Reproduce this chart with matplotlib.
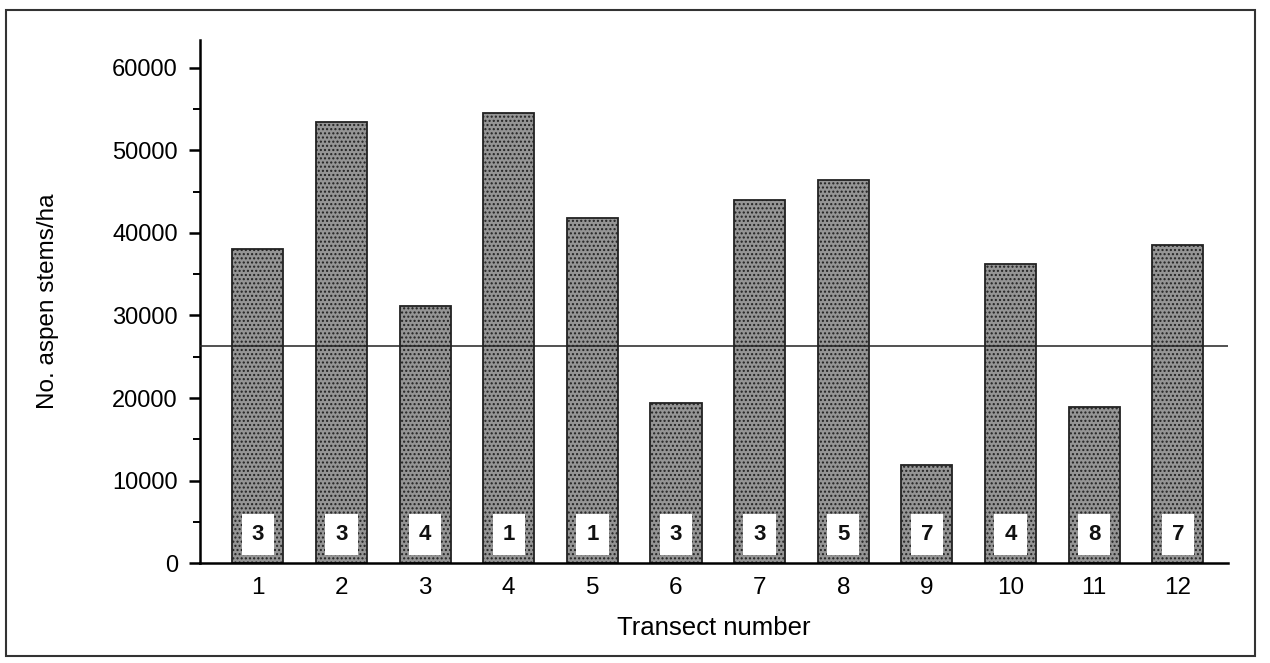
"""
Aspen stem density along twelve transects, with the mean as a horizontal line
and a small boxed count at the foot of each bar.
"""

import matplotlib
matplotlib.use('Agg')
import matplotlib.pyplot as plt
from matplotlib.patches import Rectangle
from matplotlib.ticker import MultipleLocator

plt.rcParams['font.family'] = ['Liberation Sans', 'DejaVu Sans']

# Data
transects = [1, 2, 3, 4, 5, 6, 7, 8, 9, 10, 11, 12]
stems_per_ha = [38000, 53500, 31100, 54500, 41800, 19400,
                44000, 46400, 11900, 36200, 18900, 38500]
box_counts = [3, 3, 4, 1, 1, 3, 3, 5, 7, 4, 8, 7]
mean_line = 26300

fig = plt.figure(figsize=(12.7, 6.63), dpi=100)
ax = fig.add_axes([0.1575, 0.1508, 0.8095, 0.789])

# stippled grey bars
ax.bar(transects, stems_per_ha, width=0.61, color='#959595',
       edgecolor='#222222', linewidth=1.3, hatch='....', zorder=2)

# mean line across the plot
ax.axhline(mean_line, color='#222222', linewidth=1.1, zorder=3)

# boxed counts near the bottom of each bar
for x, n in zip(transects, box_counts):
    ax.text(x, 3400, str(n), ha='center', va='center', fontsize=16,
            fontweight='bold', color='#111111', zorder=4,
            bbox=dict(boxstyle='square,pad=0.45', facecolor='white',
                      edgecolor='none'))

ax.set_xlim(0.31, 12.6)
ax.set_ylim(0, 63400)
ax.set_xticks(transects)
ax.set_yticks(range(0, 60001, 10000))
ax.yaxis.set_minor_locator(MultipleLocator(5000))

for side in ['top', 'right']:
    ax.spines[side].set_visible(False)
ax.spines['left'].set_linewidth(1.8)
ax.spines['bottom'].set_linewidth(1.8)

ax.tick_params(axis='x', length=0, pad=10, labelsize=17.5)
ax.tick_params(axis='y', which='major', length=8, width=1.8,
               direction='out', pad=8, labelsize=17)
ax.tick_params(axis='y', which='minor', length=5, width=1.4, direction='out')

ax.set_xlabel('Transect number', fontsize=18.5, labelpad=12)
ax.set_ylabel('No. aspen stems/ha', fontsize=17.5, labelpad=38)

# outer frame around the whole figure
fig.patches.append(Rectangle((0.005, 0.01), 0.983, 0.975,
                             transform=fig.transFigure, fill=False,
                             edgecolor='#333333', linewidth=1.5))

plt.savefig('out.png', dpi=100)
